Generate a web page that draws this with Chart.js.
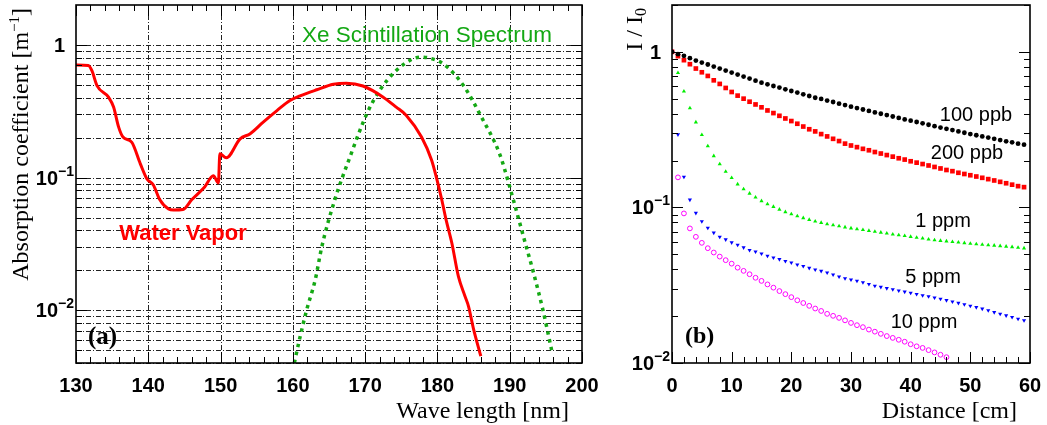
<!DOCTYPE html>
<html>
<head>
<meta charset="utf-8">
<script src="https://cdn.jsdelivr.net/npm/chart.js@4.4.1/dist/chart.umd.min.js"></script>
<style>
  body { margin: 0; background: #fff; width: 1047px; height: 425px; overflow: hidden; position: relative; }
  .panel { position: absolute; top: 0; height: 425px; }
</style>
</head>
<body>
<div class="panel" style="left:0;width:600px"><canvas id="chart-a" width="600" height="425"></canvas></div>
<div class="panel" style="left:600px;width:447px"><canvas id="chart-b" width="447" height="425"></canvas></div>
<script>
// ---- panel (a): absorption of water vapour and the Xe scintillation spectrum
const waterWl  = [130, 131.7, 132.2, 132.9, 134.5, 135.2, 135.9, 136.5, 137.7, 138.9, 139.8, 140.7, 141.6, 142.8, 143.5, 144.8,
                  146, 147.8, 149, 149.7, 149.9, 150.8, 152.7, 154.1, 155.9, 157.8, 159.6, 161, 163.3, 165.6, 167.4, 169.7,
                  172.5, 174.3, 175.7, 177.8, 179.2, 179.9, 180.6, 181.2, 182, 182.9, 183.8, 184.3, 185, 186];
const waterAbs = [0.706, 0.70, 0.64, 0.494, 0.404, 0.34, 0.24, 0.202, 0.185, 0.127, 0.098, 0.088, 0.068, 0.058, 0.057, 0.0575,
                  0.068, 0.085, 0.103, 0.091, 0.151, 0.141, 0.196, 0.214, 0.262, 0.32, 0.381, 0.413, 0.459, 0.505, 0.515, 0.49,
                  0.404, 0.34, 0.294, 0.202, 0.135, 0.098, 0.068, 0.048, 0.032, 0.018, 0.0128, 0.0107, 0.0072, 0.0045];
const xeWl     = [160.2, 161, 161.9, 163.1, 164, 165.8, 167.9, 170.2, 172, 174.3, 176.6, 177.7, 178.7, 180.8, 183.6, 186.1,
                  188.6, 189.8, 190.5, 192.3, 193.2, 194.6, 195.8];
const xeSpec   = [0.004, 0.0063, 0.01, 0.017, 0.03, 0.068, 0.143, 0.30, 0.453, 0.641, 0.785, 0.81, 0.80, 0.72, 0.494, 0.285,
                  0.151, 0.093, 0.068, 0.03, 0.02, 0.01, 0.005];

// ---- panel (b): I/I0 vs distance for several impurity levels
const distance = [0, 1, 2, 3, 4, 5, 6, 7, 8, 9, 10, 11, 12, 13, 14, 15, 16, 17, 18, 19, 20, 21, 22, 23, 24, 25, 26, 27, 28, 29,
                  30, 31, 32, 33, 34, 35, 36, 37, 38, 39, 40, 41, 42, 43, 44, 45, 46, 47, 48, 49, 50, 51, 52, 53, 54, 55, 56, 57, 58, 59];
const ppb100 = [1, .966, .942, .91, .879, .853, .829, .804, .781, .758, .736, .714, .693, .673, .653, .634, .618, .603, .589, .574,
                .56, .547, .533, .52, .507, .498, .486, .476, .464, .455, .444, .435, .426, .417, .408, .40, .392, .384, .376, .368,
                .361, .354, .347, .340, .333, .326, .32, .314, .308, .302, .296, .291, .286, .281, .276, .271, .266, .262, .257, .253];
const ppb200 = [1, .938, .884, .833, .781, .739, .70, .656, .622, .586, .552, .523, .50, .478, .459, .44, .42, .404, .388, .373,
                .359, .345, .331, .318, .308, .296, .286, .276, .267, .257, .250, .244, .238, .233, .227, .222, .217, .212, .207, .203,
                .198, .194, .19, .186, .182, .178, .174, .171, .167, .164, .161, .158, .155, .152, .149, .146, .143, .140, .137, .135];
const ppm1   = [1, .732, .557, .435, .353, .293, .248, .214, .19, .17, .155, .141, .131, .123, .116, .110, .105, .101, .097, .0935,
                .0906, .088, .0855, .0834, .0813, .0797, .0781, .077, .0759, .0746, .0735, .0726, .0717, .0708, .0699, .069, .0681, .0672, .0664, .0656,
                .0648, .064, .0632, .0624, .0616, .0611, .0606, .0601, .0596, .0591, .0586, .0581, .0577, .0573, .0569, .0565, .0561, .0557, .0552, .0547];
const ppm5   = [1, .294, .157, .112, .092, .0813, .0739, .0687, .0647, .0622, .0595, .0574, .0552, .0531, .052, .0505, .0488, .0476, .0464, .0451,
                .0442, .0429, .0419, .0408, .0398, .039, .0381, .037, .0359, .035, .0343, .0337, .033, .0321, .0313, .0308, .0302, .0297, .0292, .0287,
                .0282, .0277, .0272, .0268, .0263, .0258, .0253, .0248, .0243, .0238, .0233, .0228, .0223, .0218, .0212, .0207, .0202, .0197, .0192, .0188];
const ppm10  = [1, .156, .0915, .0733, .0647, .0592, .0547, .0513, .0483, .0458, .0435, .041, .0391, .0372, .0353, .0337, .032, .0305, .029, .0277,
                .0265, .0253, .0243, .0233, .0224, .0216, .0207, .0201, .0195, .0188, .0181, .0175, .017, .0164, .0159, .0154, .0149, .0145, .0141, .0137,
                .0132, .0128, .0125, .0121, .0117, .0113, .0109];
const seriesNames = ['100 ppb', '200 ppb', '1 ppm', '5 ppm', '10 ppm'];

// tick labels
const waveTicks = [130, 140, 150, 160, 170, 180, 190, 200];
const distTicks = [0, 10, 20, 30, 40, 50, 60];
const decadeTicks = [0.01, 0.1, 1];

const SANS = '"Liberation Sans", Arial, sans-serif';
const SERIF = '"Liberation Serif", "Times New Roman", serif';

const pts = (xs, ys) => ys.map((y, i) => ({x: xs[i], y: y}));

// draws "1" or "10^n" right-aligned next to the y axis
function drawPow(ctx, v, axisX, yc) {
    const n = Math.round(Math.log10(v));
    ctx.textAlign = 'left';
    ctx.font = 'bold 20px ' + SANS;
    if (n === 0) {
        const w = ctx.measureText('1').width;
        ctx.fillText('1', axisX - 11 - w, yc + 7);
        return;
    }
    const w1 = ctx.measureText('10').width;
    ctx.font = 'bold 14px ' + SANS;
    const sup = '\u2212' + Math.abs(n);
    const w2 = ctx.measureText(sup).width;
    ctx.fillText(sup, axisX - 2 - w2, yc - 2);
    ctx.font = 'bold 20px ' + SANS;
    ctx.fillText('10', axisX - 2 - w2 - w1, yc + 7);
}

// text made of parts [text, size, baseline shift], drawn rotated (reads bottom to top), ending at yTop
function drawVertical(ctx, parts, x, yTop) {
    ctx.save();
    ctx.translate(x, yTop);
    ctx.rotate(-Math.PI / 2);
    ctx.textAlign = 'left';
    let total = 0;
    for (const p of parts) { ctx.font = p[1] + 'px ' + SERIF; total += ctx.measureText(p[0]).width; }
    let pos = -total;
    for (const p of parts) {
        ctx.font = p[1] + 'px ' + SERIF;
        ctx.fillText(p[0], pos, p[2]);
        pos += ctx.measureText(p[0]).width;
    }
    ctx.restore();
}

function line(ctx, x1, y1, x2, y2) {
    ctx.beginPath(); ctx.moveTo(x1, y1); ctx.lineTo(x2, y2); ctx.stroke();
}

// frame, inside ticks, grid and labels in the ROOT style
function axesPlugin(o) {
    return {
        id: 'rootAxes',
        beforeDatasetsDraw(chart) {
            if (!o.grid) return;
            const {ctx, chartArea: a, scales: {x, y}} = chart;
            ctx.save();
            ctx.strokeStyle = '#222';
            ctx.lineWidth = 1;
            ctx.setLineDash([5, 2, 1, 2]);
            for (let v = o.xMin + o.xMajor; v < o.xMax; v += o.xMajor) {
                const px = Math.round(x.getPixelForValue(v)) + 0.5;
                line(ctx, px, a.top, px, a.bottom);
            }
            for (const v of o.yMinor) {
                if (v > 1) continue;
                const py = Math.round(y.getPixelForValue(v)) + 0.5;
                line(ctx, a.left, py, a.right, py);
            }
            ctx.restore();
        },
        afterDatasetsDraw(chart) {
            const {ctx, chartArea: a, scales: {x, y}} = chart;
            ctx.save();
            ctx.strokeStyle = '#000';
            ctx.fillStyle = '#000';
            ctx.lineWidth = 1;
            // x ticks (bottom, optional top)
            for (let v = o.xMin; v <= o.xMax + 1e-9; v += o.xMinorStep) {
                const px = Math.round(x.getPixelForValue(v)) + 0.5;
                const major = Math.abs(v / o.xMajor - Math.round(v / o.xMajor)) < 1e-6;
                const len = major ? 11 : 6;
                line(ctx, px, a.bottom, px, a.bottom - len);
                if (o.topTicks) line(ctx, px, a.top, px, a.top + len);
            }
            // y ticks (left and right)
            for (const v of o.yMinor) {
                const py = Math.round(y.getPixelForValue(v)) + 0.5;
                const len = decadeTicks.includes(v) ? 11 : 6;
                line(ctx, a.left, py, a.left + len, py);
                line(ctx, a.right, py, a.right - len, py);
            }
            // frame
            ctx.lineWidth = 1.6;
            ctx.strokeRect(a.left, a.top, a.right - a.left, a.bottom - a.top);
            // tick labels
            ctx.font = 'bold 20px ' + SANS;
            ctx.textAlign = 'center';
            for (const v of o.xLabels) ctx.fillText(String(v), x.getPixelForValue(v), 392);
            for (const v of decadeTicks) drawPow(ctx, v, a.left, y.getPixelForValue(v));
            // axis titles
            ctx.font = '24px ' + SERIF;
            ctx.textAlign = 'right';
            ctx.fillText(o.xTitle, o.xTitleRight, 418);
            drawVertical(ctx, o.yTitle, o.yTitleX, 8);
            // notes
            for (const t of o.notes) {
                ctx.font = t.font;
                ctx.fillStyle = t.color;
                ctx.textAlign = t.align;
                ctx.fillText(t.text, t.x, t.y);
            }
            ctx.restore();
        }
    };
}

const minorA = [0.004, 0.005, 0.006, 0.007, 0.008, 0.009, 0.01, 0.02, 0.03, 0.04, 0.05, 0.06, 0.07, 0.08, 0.09,
                0.1, 0.2, 0.3, 0.4, 0.5, 0.6, 0.7, 0.8, 0.9, 1];
const minorB = [0.01, 0.02, 0.03, 0.04, 0.05, 0.06, 0.07, 0.08, 0.09,
                0.1, 0.2, 0.3, 0.4, 0.5, 0.6, 0.7, 0.8, 0.9, 1, 2];

function baseOptions(pad, xMin, xMax, yMin, yMax) {
    return {
        responsive: false,
        animation: false,
        layout: {padding: pad},
        plugins: {legend: {display: false}, tooltip: {enabled: false}},
        scales: {
            x: {type: 'linear', min: xMin, max: xMax, display: false},
            y: {type: 'logarithmic', min: yMin, max: yMax, display: false}
        }
    };
}

// ---- chart (a)
new Chart(document.getElementById('chart-a'), {
    type: 'line',
    data: {
        datasets: [
            {
                label: 'Water Vapor',
                data: pts(waterWl, waterAbs),
                borderColor: '#ff0000',
                borderWidth: 3,
                pointRadius: 0,
                cubicInterpolationMode: 'monotone',
                fill: false
            },
            {
                label: 'Xe Scintillation Spectrum',
                data: pts(xeWl, xeSpec),
                borderColor: '#14a814',
                borderWidth: 3.5,
                borderDash: [3.5, 4.5],
                borderCapStyle: 'butt',
                pointRadius: 0,
                cubicInterpolationMode: 'monotone',
                fill: false
            }
        ]
    },
    options: baseOptions({left: 76, right: 18, top: 5, bottom: 62}, 130, 200, 0.004, 2),
    plugins: [axesPlugin({
        grid: true, topTicks: true,
        xMin: 130, xMax: 200, xMajor: 10, xMinorStep: 2,
        yMinor: minorA, xLabels: waveTicks,
        xTitle: 'Wave length [nm]', xTitleRight: 569,
        yTitle: [['Absorption coefficient [m', 24, 0], ['\u22121', 15, -9], [']', 24, 0]], yTitleX: 28,
        notes: [
            {text: 'Xe Scintillation Spectrum', font: '22.5px ' + SANS, color: '#14a814', align: 'center', x: 427, y: 42},
            {text: 'Water Vapor', font: 'bold 22px ' + SANS, color: '#ff0000', align: 'center', x: 183, y: 240},
            {text: '(a)', font: 'bold 25px ' + SERIF, color: '#000', align: 'left', x: 88, y: 344}
        ]
    })]
});

// ---- chart (b)
const markers = [
    {data: ppb100, color: '#000000', style: 'circle', r: 2.4},
    {data: ppb200, color: '#ff0000', style: 'rect', r: 3.3},
    {data: ppm1,   color: '#00ee00', style: 'triangle', r: 2.4},
    {data: ppm5,   color: '#0000ff', style: 'triangle', r: 2.4, rot: 180}
];
const dsB = markers.map((m, i) => ({
    label: seriesNames[i],
    data: pts(distance, m.data),
    showLine: false,
    pointStyle: m.style,
    pointRadius: m.r,
    pointRotation: m.rot || 0,
    pointBackgroundColor: m.color,
    pointBorderColor: m.color,
    pointBorderWidth: 0
}));
dsB.push({
    label: seriesNames[4],
    data: pts(distance, ppm10),
    showLine: false,
    pointStyle: ctx => ctx.dataIndex === 0 ? 'rect' : 'circle',
    pointRadius: 2.4,
    pointBackgroundColor: 'rgba(0,0,0,0)',
    pointBorderColor: '#ff00ff',
    pointBorderWidth: 1
});

new Chart(document.getElementById('chart-b'), {
    type: 'line',
    data: {datasets: dsB},
    options: baseOptions({left: 72, right: 17, top: 4, bottom: 62}, 0, 60, 0.01, 2),
    plugins: [axesPlugin({
        grid: false, topTicks: false,
        xMin: 0, xMax: 60, xMajor: 10, xMinorStep: 2,
        yMinor: minorB, xLabels: distTicks,
        xTitle: 'Distance [cm]', xTitleRight: 417,
        yTitle: [['I / I', 24, 0], ['0', 16, 4]], yTitleX: 42,
        notes: [
            {text: seriesNames[0], font: '20px ' + SANS, color: '#000', align: 'center', x: 376, y: 121},
            {text: seriesNames[1], font: '20px ' + SANS, color: '#000', align: 'center', x: 367, y: 159},
            {text: seriesNames[2], font: '20px ' + SANS, color: '#000', align: 'center', x: 343, y: 227},
            {text: seriesNames[3], font: '20px ' + SANS, color: '#000', align: 'center', x: 333, y: 283},
            {text: seriesNames[4], font: '20px ' + SANS, color: '#000', align: 'center', x: 324, y: 328},
            {text: '(b)', font: 'bold 24px ' + SERIF, color: '#000', align: 'left', x: 85, y: 343}
        ]
    })]
});
</script>
</body>
</html>
